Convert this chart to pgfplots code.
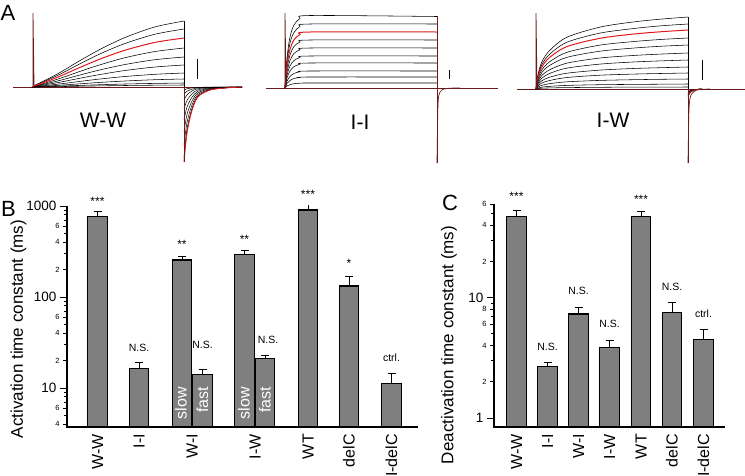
\documentclass[border=0pt]{standalone}
\usepackage{pgfplots}
\pgfplotsset{compat=1.18}
\usepackage{fontspec}
\setmainfont{Liberation Sans}
\definecolor{barg}{HTML}{7F7F7F}
\definecolor{tr}{HTML}{E31A1C}
\definecolor{dr}{HTML}{6A1A1A}
\newcommand{\fs}[1]{\fontsize{#1}{#1}\selectfont}
\pgfplotsset{bstyle/.style={scale only axis, anchor=south west,
  axis line style={draw=none},
  ytick pos=left, yticklabel pos=left, xtick=\empty,
  tick align=outside, tick style={draw=black, line width=0.9pt},
  major tick length=7pt, minor tick length=3pt,
  yticklabel style={font=\fs{13.5}},
  extra y tick style={major tick length=4pt, yticklabel style={font=\fs{7.5}}}}}
\begin{document}
\begin{tikzpicture}
\useasboundingbox (0pt,0pt) rectangle (745pt,475pt);
% ---------------- Panel B ----------------
\begin{axis}[ymode=log, log origin=infty, bstyle, at={(67pt,48pt)}, width=351pt, height=221pt,
  xmin=67, xmax=418, ymin=3.73, ymax=1000,
  ytick={10,100,1000}, yticklabels={10,100,1000},
  extra y ticks={4,6,20,40,60,200,400,600},
  extra y tick labels={4,6,2,4,6,2,4,6},
  minor ytick={5,7,8,9,30,50,70,80,90,300,500,700,800,900}]
\addplot[ybar, bar width=19.5, fill=barg, draw=black, line width=1.1pt,
  error bars/.cd, y dir=plus, y explicit,
  error bar style={line width=1pt, black},
  error mark options={rotate=90, mark size=4pt, line width=1pt, black}]
  coordinates {
  (97.5,760) +- (0,100)
  (139,16.5) +- (0,2.6)
  (182,255) +- (0,27)
  (202.5,14.0) +- (0,1.8)
  (244.5,294) +- (0,29)
  (265,21.2) +- (0,1.7)
  (308,904) +- (0,140)
  (349,132) +- (0,38)
  (391.5,11.1) +- (0,3.2)
  };
\end{axis}
% ---------------- Panel C ----------------
\begin{axis}[ymode=log, log origin=infty, bstyle, at={(494pt,48pt)}, width=231pt, height=223pt,
  xmin=494, xmax=725, ymin=0.841, ymax=60,
  ytick={1,10}, yticklabels={1,10},
  extra y ticks={2,4,6,8,20,40,60},
  extra y tick labels={2,4,6,8,2,4,6},
  minor ytick={3,5,7,9,30,50}]
\addplot[ybar, bar width=19.5, fill=barg, draw=black, line width=1.1pt,
  error bars/.cd, y dir=plus, y explicit,
  error bar style={line width=1pt, black},
  error mark options={rotate=90, mark size=4pt, line width=1pt, black}]
  coordinates {
  (516.5,47.0) +- (0,6)
  (547.5,2.68) +- (0,0.21)
  (578.5,7.31) +- (0,1.0)
  (609.5,3.88) +- (0,0.5)
  (641,47.4) +- (0,5)
  (672,7.55) +- (0,1.48)
  (703.5,4.47) +- (0,0.94)
  };
\end{axis}
% ---------------- Panel A : current traces (pixel coordinates) ----------------
\begin{axis}[at={(0pt,0pt)}, anchor=south west, scale only axis, width=745pt, height=475pt,
  xmin=0, xmax=745, ymin=0, ymax=475, y dir=reverse, axis lines=none, clip=false]
% axis lines of panels B and C
\addplot[black, line width=1.6pt] coordinates {(67,205.5)(67,427)(418,427)};
\addplot[black, line width=1.6pt] coordinates {(494,203.5)(494,427)(725,427)};
% tick marks of panel B (log-scale positions)
\addplot[black, line width=0.9pt] coordinates {(60,388)(67,388)};
\addplot[black, line width=0.9pt] coordinates {(60,297)(67,297)};
\addplot[black, line width=0.9pt] coordinates {(60,206)(67,206)};
\addplot[black, line width=0.9pt] coordinates {(63,424.2)(67,424.2)};
\addplot[black, line width=0.9pt] coordinates {(63,408.2)(67,408.2)};
\addplot[black, line width=0.9pt] coordinates {(63,360.6)(67,360.6)};
\addplot[black, line width=0.9pt] coordinates {(63,333.2)(67,333.2)};
\addplot[black, line width=0.9pt] coordinates {(63,317.2)(67,317.2)};
\addplot[black, line width=0.9pt] coordinates {(63,269.6)(67,269.6)};
\addplot[black, line width=0.9pt] coordinates {(63,242.2)(67,242.2)};
\addplot[black, line width=0.9pt] coordinates {(63,226.2)(67,226.2)};
\addplot[black, line width=0.8pt] coordinates {(64,415.4)(67,415.4)};
\addplot[black, line width=0.8pt] coordinates {(64,402.1)(67,402.1)};
\addplot[black, line width=0.8pt] coordinates {(64,396.8)(67,396.8)};
\addplot[black, line width=0.8pt] coordinates {(64,392.2)(67,392.2)};
\addplot[black, line width=0.8pt] coordinates {(64,344.6)(67,344.6)};
\addplot[black, line width=0.8pt] coordinates {(64,324.4)(67,324.4)};
\addplot[black, line width=0.8pt] coordinates {(64,311.1)(67,311.1)};
\addplot[black, line width=0.8pt] coordinates {(64,305.8)(67,305.8)};
\addplot[black, line width=0.8pt] coordinates {(64,301.2)(67,301.2)};
\addplot[black, line width=0.8pt] coordinates {(64,253.6)(67,253.6)};
\addplot[black, line width=0.8pt] coordinates {(64,233.4)(67,233.4)};
\addplot[black, line width=0.8pt] coordinates {(64,220.1)(67,220.1)};
\addplot[black, line width=0.8pt] coordinates {(64,214.8)(67,214.8)};
\addplot[black, line width=0.8pt] coordinates {(64,210.2)(67,210.2)};
% tick marks of panel C
\addplot[black, line width=0.9pt] coordinates {(487,418)(494,418)};
\addplot[black, line width=0.9pt] coordinates {(487,297.6)(494,297.6)};
\addplot[black, line width=0.9pt] coordinates {(490,381.7)(494,381.7)};
\addplot[black, line width=0.9pt] coordinates {(490,345.5)(494,345.5)};
\addplot[black, line width=0.9pt] coordinates {(490,324.3)(494,324.3)};
\addplot[black, line width=0.9pt] coordinates {(490,309.3)(494,309.3)};
\addplot[black, line width=0.9pt] coordinates {(490,261.4)(494,261.4)};
\addplot[black, line width=0.9pt] coordinates {(490,225.2)(494,225.2)};
\addplot[black, line width=0.9pt] coordinates {(490,204.5)(494,204.5)};
\addplot[black, line width=0.8pt] coordinates {(491,360.5)(494,360.5)};
\addplot[black, line width=0.8pt] coordinates {(491,333.8)(494,333.8)};
\addplot[black, line width=0.8pt] coordinates {(491,316.3)(494,316.3)};
\addplot[black, line width=0.8pt] coordinates {(491,303.1)(494,303.1)};
\addplot[black, line width=0.8pt] coordinates {(491,240.2)(494,240.2)};
\addplot[black, line width=0.8pt] coordinates {(491,213.5)(494,213.5)};
% baselines
\addplot[dr, line width=0.9pt] coordinates {(13,87)(242,87)};
\addplot[dr, line width=0.9pt] coordinates {(266,88)(498,88)};
\addplot[dr, line width=0.9pt] coordinates {(517,89)(745,89)};
% ---- W-W activation
\addplot[black, line width=0.55pt, smooth] coordinates {(33,87)(34,85.7)(45,80.4)(60,72.5)(80,60.6)(100,49.4)(125,37.5)(155,26.9)(184,21)};
\addplot[black, line width=0.55pt, smooth] coordinates {(33,87)(34,85.8)(45,81.2)(60,74.2)(80,63.8)(100,53.9)(125,43.5)(155,34.2)(184,29)};
\addplot[black, line width=0.55pt, smooth] coordinates {(33,87)(34,86.2)(45,83.1)(60,78.4)(80,71.4)(100,64.8)(125,57.7)(155,51.5)(184,48)};
\addplot[black, line width=0.55pt, smooth] coordinates {(33,87)(34,86.4)(45,84)(60,80.4)(80,75)(100,69.9)(125,64.5)(155,59.7)(184,57)};
\addplot[black, line width=0.55pt, smooth] coordinates {(33,87)(34,86.6)(45,84.8)(60,82.2)(80,78.2)(100,74.5)(125,70.5)(155,67)(184,65)};
\addplot[black, line width=0.55pt, smooth] coordinates {(33,87)(34,86.7)(45,85.6)(60,83.9)(80,81.4)(100,79)(125,76.5)(155,74.3)(184,73)};
\addplot[black, line width=0.55pt, smooth] coordinates {(33,87)(34,86.8)(45,86.2)(60,85.2)(80,83.8)(100,82.4)(125,81)(155,79.7)(184,79)};
\addplot[black, line width=0.55pt, smooth] coordinates {(33,87)(34,86.9)(45,86.6)(60,86.1)(80,85.4)(100,84.7)(125,84)(155,83.4)(184,83)};
\addplot[black, line width=0.55pt, smooth] coordinates {(33,87)(34,87)(45,86.8)(60,86.6)(80,86.2)(100,85.9)(125,85.5)(155,85.2)(184,85)};
% ---- W-W tails
\addplot[black, line width=0.5pt, smooth] coordinates {(184,157)(187,129.7)(192,108.7)(198,96.1)(210,89.8)(225,87.9)(242,87)};
\addplot[black, line width=0.5pt, smooth] coordinates {(184,159)(187,130.9)(192,109.3)(198,96.4)(210,89.9)(225,87.9)(242,87)};
\addplot[black, line width=0.5pt, smooth] coordinates {(184,145)(187,122.4)(192,105)(198,94.5)(210,89.3)(225,87.8)(242,87)};
\addplot[black, line width=0.5pt, smooth] coordinates {(184,132)(187,114.5)(192,101)(198,92.9)(210,88.8)(225,87.6)(242,87)};
\addplot[black, line width=0.5pt, smooth] coordinates {(184,120)(187,107.1)(192,97.2)(198,91.3)(210,88.3)(225,87.4)(242,87)};
\addplot[black, line width=0.5pt, smooth] coordinates {(184,109)(187,100.4)(192,93.8)(198,89.9)(210,87.9)(225,87.3)(242,87)};
\addplot[black, line width=0.5pt, smooth] coordinates {(184,100)(187,94.9)(192,91)(198,88.7)(210,87.5)(225,87.2)(242,87)};
\addplot[black, line width=0.5pt, smooth] coordinates {(184,94)(187,91.3)(192,89.2)(198,87.9)(210,87.3)(225,87.1)(242,87)};
\addplot[black, line width=0.5pt, smooth] coordinates {(184,90)(187,88.8)(192,87.9)(198,87.4)(210,87.1)(225,87)(242,87)};
% W-W red trace
\addplot[tr, line width=1pt, smooth] coordinates {(33,87)(34,86)(45,82.1)(60,76.2)(80,67.4)(100,59.1)(125,50.2)(155,42.4)(184,38)};
\addplot[tr, line width=0.9pt, smooth] coordinates {(184,162)(187,132.8)(192,110.3)(198,96.8)(210,90)(225,88)(242,87)};
% W-W spikes
\addplot[dr, line width=0.8pt] coordinates {(33,87)(33,13)(34,85)};
\addplot[black, line width=0.7pt] coordinates {(184,21)(184,87)};
\addplot[dr, line width=0.8pt] coordinates {(184,87)(184,162)};
% ---- I-I activation
\addplot[black, line width=0.55pt, smooth] coordinates {(285,88)(287,58)(290,37)(294,25)(300,18.5)(310,15.5)(437,16.5)};
\addplot[black, line width=0.55pt, smooth] coordinates {(285,88)(287,62)(290,43)(294,32.5)(300,26.5)(310,24)(437,24)};
\addplot[black, line width=0.55pt, smooth] coordinates {(285,88)(287,68.5)(290,55)(294,46.5)(300,42)(310,40)(437,40)};
\addplot[black, line width=0.55pt, smooth] coordinates {(285,88)(287,72)(290,60.5)(294,53.5)(300,49.8)(310,48)(437,48)};
\addplot[black, line width=0.55pt, smooth] coordinates {(285,88)(287,75)(290,66)(294,60.5)(300,57.5)(310,56)(437,56)};
\addplot[black, line width=0.55pt, smooth] coordinates {(285,88)(287,78)(290,71)(294,66.6)(300,64.2)(310,63)(437,63)};
\addplot[black, line width=0.55pt, smooth] coordinates {(285,88)(287,81.2)(290,76.4)(294,73.4)(300,71.8)(310,71)(437,71)};
\addplot[black, line width=0.55pt, smooth] coordinates {(285,88)(287,83.6)(290,80.5)(294,78.5)(300,77.5)(310,77)(437,77)};
\addplot[black, line width=0.55pt, smooth] coordinates {(285,88)(287,86)(290,84.6)(294,83.7)(300,83.2)(310,83)(437,83)};
\addplot[tr, line width=1pt, smooth] coordinates {(285,88)(287,65.5)(290,49.5)(294,39.8)(300,34.5)(310,32)(437,32)};
\addplot[dr, line width=0.8pt] coordinates {(285,88)(285,13)(286,86)};
\addplot[dr, line width=0.8pt] coordinates {(437,16)(437,163)};
\addplot[dr, line width=0.7pt, smooth] coordinates {(437,163)(438,105)(440,92)(446,88.5)(460,88)};
% ---- I-W activation
\addplot[black, line width=0.55pt, smooth] coordinates {(536,89)(538,74.6)(542,61.6)(550,50.1)(567,37.2)(600,27.1)(633,22)(660,19.2)(688,17)};
\addplot[black, line width=0.55pt, smooth] coordinates {(536,89)(538,76)(542,64.3)(550,53.9)(567,42.2)(600,33.1)(633,28.6)(660,25.9)(688,24)};
\addplot[black, line width=0.55pt, smooth] coordinates {(536,89)(538,78.8)(542,69.6)(550,61.5)(567,52.3)(600,45.1)(633,41.6)(660,39.5)(688,38)};
\addplot[black, line width=0.55pt, smooth] coordinates {(536,89)(538,80.2)(542,72.3)(550,65.2)(567,57.3)(600,51.2)(633,48.1)(660,46.3)(688,45)};
\addplot[black, line width=0.55pt, smooth] coordinates {(536,89)(538,81.8)(542,75.3)(550,69.6)(567,63.1)(600,58)(633,55.5)(660,54.1)(688,53)};
\addplot[black, line width=0.55pt, smooth] coordinates {(536,89)(538,83.2)(542,78)(550,73.3)(567,68.1)(600,64.1)(633,62)(660,60.9)(688,60)};
\addplot[black, line width=0.55pt, smooth] coordinates {(536,89)(538,84.6)(542,80.6)(550,77.1)(567,73.2)(600,70.1)(633,68.5)(660,67.7)(688,67)};
\addplot[black, line width=0.55pt, smooth] coordinates {(536,89)(538,85.8)(542,82.9)(550,80.4)(567,77.5)(600,75.2)(633,74.1)(660,73.5)(688,73)};
\addplot[black, line width=0.55pt, smooth] coordinates {(536,89)(538,87)(542,85.2)(550,83.6)(567,81.8)(600,80.4)(633,79.7)(660,79.3)(688,79)};
\addplot[black, line width=0.55pt, smooth] coordinates {(536,89)(538,88)(542,87.1)(550,86.3)(567,85.4)(600,84.7)(633,84.4)(660,84.2)(688,84)};
\addplot[black, line width=0.55pt, smooth] coordinates {(536,89)(538,88.6)(542,88.2)(550,87.9)(567,87.6)(600,87.3)(633,87.1)(660,87.1)(688,87)};
% I-W tails
\addplot[black, line width=0.5pt, smooth] coordinates {(688,97)(690,93)(694,90.2)(702,89)};
\addplot[black, line width=0.5pt, smooth] coordinates {(688,96.2)(690,92.6)(694,90.1)(702,89)};
\addplot[black, line width=0.5pt, smooth] coordinates {(688,94.7)(690,91.9)(694,89.9)(702,89)};
\addplot[black, line width=0.5pt, smooth] coordinates {(688,93.9)(690,91.5)(694,89.7)(702,89)};
\addplot[black, line width=0.5pt, smooth] coordinates {(688,93)(690,91)(694,89.6)(702,89)};
\addplot[black, line width=0.5pt, smooth] coordinates {(688,92.2)(690,90.6)(694,89.5)(702,89)};
\addplot[tr, line width=1pt, smooth] coordinates {(536,89)(538,77.2)(542,66.6)(550,57.1)(567,46.5)(600,38.3)(633,34.1)(660,31.8)(688,30)};
\addplot[tr, line width=0.7pt, smooth] coordinates {(688,95.6)(690,92.3)(694,90)(702,89)};
\addplot[dr, line width=0.8pt] coordinates {(536,89)(536,13)(537,87)};
\addplot[black, line width=0.7pt] coordinates {(688,17)(688,89)};
\addplot[dr, line width=0.8pt] coordinates {(688,89)(688,163)};
\addplot[dr, line width=0.7pt, smooth] coordinates {(688,163)(689,110)(691,95)(697,90)(710,89)};
% scale bars
\addplot[black, line width=0.9pt] coordinates {(197,59)(197,79)};
\addplot[black, line width=0.9pt] coordinates {(449,70)(449,79)};
\addplot[black, line width=0.9pt] coordinates {(702,60)(702,80)};
% ---- text, in pixel coordinates
\node[font=\fs{22}] at (axis cs:8,13) {A};
\node[font=\fs{22}] at (axis cs:8.5,208.5) {B};
\node[font=\fs{22}] at (axis cs:450,203) {C};
\node[font=\fs{21}] at (axis cs:103,120) {W-W};
\node[font=\fs{21}] at (axis cs:360,122) {I-I};
\node[font=\fs{21}] at (axis cs:613,120) {I-W};
\node[font=\fs{17}, rotate=90] at (axis cs:18.5,329) {Activation time constant (ms)};
\node[font=\fs{17}, rotate=90] at (axis cs:449,345) {Deactivation time constant (ms)};
% category labels
\node[font=\fs{16}, rotate=90, anchor=east, inner sep=0pt] at (axis cs:97.5,434) {W-W};
\node[font=\fs{16}, rotate=90, anchor=east, inner sep=0pt] at (axis cs:139,434) {I-I};
\node[font=\fs{16}, rotate=90, anchor=east, inner sep=0pt] at (axis cs:192,434) {W-I};
\node[font=\fs{16}, rotate=90, anchor=east, inner sep=0pt] at (axis cs:255,434) {I-W};
\node[font=\fs{16}, rotate=90, anchor=east, inner sep=0pt] at (axis cs:308,434) {WT};
\node[font=\fs{16}, rotate=90, anchor=east, inner sep=0pt] at (axis cs:349,434) {delC};
\node[font=\fs{16}, rotate=90, anchor=east, inner sep=0pt] at (axis cs:391.5,434) {I-delC};
\node[font=\fs{16}, rotate=90, anchor=east, inner sep=0pt] at (axis cs:516.5,434) {W-W};
\node[font=\fs{16}, rotate=90, anchor=east, inner sep=0pt] at (axis cs:547.5,434) {I-I};
\node[font=\fs{16}, rotate=90, anchor=east, inner sep=0pt] at (axis cs:578.5,434) {W-I};
\node[font=\fs{16}, rotate=90, anchor=east, inner sep=0pt] at (axis cs:609.5,434) {I-W};
\node[font=\fs{16}, rotate=90, anchor=east, inner sep=0pt] at (axis cs:641,434) {WT};
\node[font=\fs{16}, rotate=90, anchor=east, inner sep=0pt] at (axis cs:672,434) {delC};
\node[font=\fs{16}, rotate=90, anchor=east, inner sep=0pt] at (axis cs:703.5,434) {I-delC};
% B annotations
\node[font=\fs{12}] at (axis cs:97.5,201) {***};
\node[font=\fs{10.5}] at (axis cs:139,348) {N.S.};
\node[font=\fs{12}] at (axis cs:182,244) {**};
\node[font=\fs{10.5}] at (axis cs:202.5,345) {N.S.};
\node[font=\fs{12}] at (axis cs:244.5,239) {**};
\node[font=\fs{10.5}] at (axis cs:268,340) {N.S.};
\node[font=\fs{12}] at (axis cs:308,194) {***};
\node[font=\fs{12}] at (axis cs:349,263) {*};
\node[font=\fs{10.5}] at (axis cs:391.5,358) {ctrl.};
\node[font=\fs{16}, text=white, rotate=90, anchor=east, inner sep=0pt] at (axis cs:181,387) {slow};
\node[font=\fs{16}, text=white, rotate=90, anchor=east, inner sep=0pt] at (axis cs:202.5,387) {fast};
\node[font=\fs{16}, text=white, rotate=90, anchor=east, inner sep=0pt] at (axis cs:244,387) {slow};
\node[font=\fs{16}, text=white, rotate=90, anchor=east, inner sep=0pt] at (axis cs:265,387) {fast};
% C annotations
\node[font=\fs{12}] at (axis cs:516.5,196) {***};
\node[font=\fs{10.5}] at (axis cs:547.5,347) {N.S.};
\node[font=\fs{10.5}] at (axis cs:578.5,291) {N.S.};
\node[font=\fs{10.5}] at (axis cs:609.5,324) {N.S.};
\node[font=\fs{12}] at (axis cs:641,199) {***};
\node[font=\fs{10.5}] at (axis cs:672,287) {N.S.};
\node[font=\fs{10.5}] at (axis cs:703.5,314) {ctrl.};
\end{axis}
\end{tikzpicture}
\end{document}
